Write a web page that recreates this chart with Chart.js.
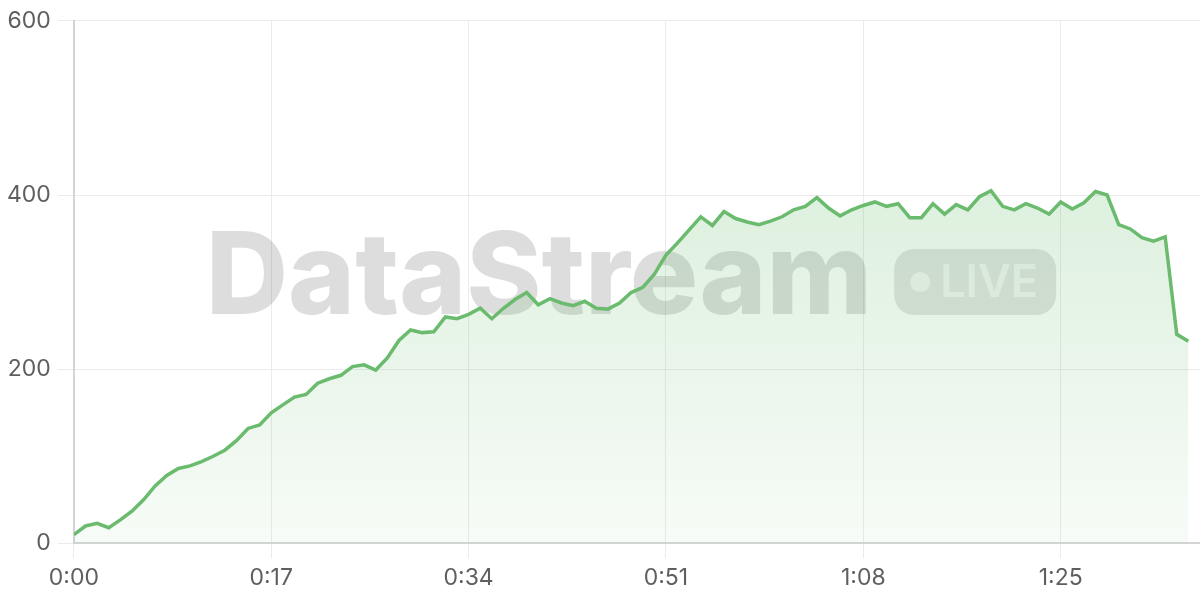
<!DOCTYPE html>
<html>
<head>
<meta charset="utf-8">
<script src="https://cdn.jsdelivr.net/npm/chart.js@4.4.1/dist/chart.umd.min.js"></script>
<style>
  html, body { margin: 0; padding: 0; background: #ffffff; }
  #wrap { width: 1200px; height: 600px; position: relative; }
</style>
</head>
<body>
<div id="wrap"><canvas id="c"></canvas></div>
<script>
const values = [10,20,23,18,27,37,50,66,78,86,
  89,94,100,107,118,132,136,150,159,168,
  171,184,189,193,203,205,199,213,233,245,
  242,243,260,258,263,270,258,270,280,288,
  274,281,276,273,278,270,269,276,288,294,
  309,331,345,360,375,365,381,373,369,366,
  370,375,383,387,397,385,376,383,388,392,
  387,390,374,374,390,378,389,383,398,405,
  387,383,390,385,378,392,384,391,404,400,
  366,361,351,347,352,240,232];
const tickPositions = [0, 17, 34, 51, 68, 85];
const tickLabels = ['0:00', '0:17', '0:34', '0:51', '1:08', '1:25'];
const yTicks = [0, 200, 400, 600];
const watermarkText = 'DataStream';
const badgeText = 'LIVE';

const points = values.map((v, i) => ({ x: i, y: v }));

const watermark = {
  id: 'watermark',
  beforeDatasetsDraw(chart) {
    const { ctx, chartArea } = chart;
    const cx = (chartArea.left + chartArea.right) / 2 - 6;
    const cy = (chartArea.top + chartArea.bottom) / 2;
    ctx.save();
    ctx.font = '800 114px Inter';
    const tw = ctx.measureText(watermarkText).width;
    const badgeW = 162, badgeH = 66, gap = 22;
    const total = tw + gap + badgeW;
    const x0 = cx - total / 2;
    ctx.fillStyle = 'rgba(0,0,0,0.135)';
    ctx.textBaseline = 'alphabetic';
    ctx.textAlign = 'left';
    ctx.fillText(watermarkText, x0, cy + 32);
    const bx = x0 + tw + gap, by = cy - badgeH / 2;
    ctx.beginPath();
    ctx.roundRect(bx, by, badgeW, badgeH, 20);
    ctx.fillStyle = 'rgba(0,0,0,0.11)';
    ctx.fill();
    ctx.fillStyle = 'rgba(255,255,255,0.6)';
    ctx.beginPath();
    ctx.arc(bx + 26, cy, 10, 0, Math.PI * 2);
    ctx.fill();
    ctx.font = '600 45px Inter';
    ctx.textBaseline = 'middle';
    ctx.fillText(badgeText, bx + 46, cy + 1);
    ctx.restore();
  }
};

const ctx = document.getElementById('c').getContext('2d');
new Chart(ctx, {
  type: 'line',
  data: {
    datasets: [{
      data: points,
      borderColor: '#6bbb6f',
      borderWidth: 3.5,
      pointRadius: 0,
      tension: 0,
      fill: 'origin',
      backgroundColor: (c) => {
        const area = c.chart.chartArea;
        if (!area) return 'rgba(102,187,106,0.15)';
        const g = c.chart.ctx.createLinearGradient(0, area.top, 0, area.bottom);
        g.addColorStop(0, 'rgba(102,187,106,0.30)');
        g.addColorStop(1, 'rgba(102,187,106,0.05)');
        return g;
      }
    }]
  },
  options: {
    responsive: true,
    maintainAspectRatio: false,
    animation: false,
    layout: { padding: { top: 5, right: 0, bottom: 2, left: 0 } },
    plugins: { legend: { display: false }, tooltip: { enabled: false } },
    scales: {
      x: {
        type: 'linear',
        min: 0,
        max: 97,
        afterBuildTicks: (scale) => { scale.ticks = tickPositions.map(v => ({ value: v })); },
        ticks: {
          autoSkip: false,
          maxRotation: 0,
          padding: 6,
          color: '#5f5f5f',
          font: { family: 'Inter', size: 23 },
          callback: (v) => { const k = tickPositions.indexOf(v); return k >= 0 ? tickLabels[k] : ''; }
        },
        grid: { color: '#ebebeb', lineWidth: 1, tickLength: 15 },
        border: { color: '#d4d4d4', width: 2 }
      },
      y: {
        min: 0,
        max: 600,
        afterBuildTicks: (scale) => { scale.ticks = yTicks.map(v => ({ value: v })); },
        ticks: {
          padding: 7,
          color: '#5f5f5f',
          font: { family: 'Inter', size: 23 }
        },
        grid: { color: '#ebebeb', lineWidth: 1, tickLength: 16 },
        border: { color: '#d4d4d4', width: 2 }
      }
    }
  },
  plugins: [watermark]
});
</script>
</body>
</html>
